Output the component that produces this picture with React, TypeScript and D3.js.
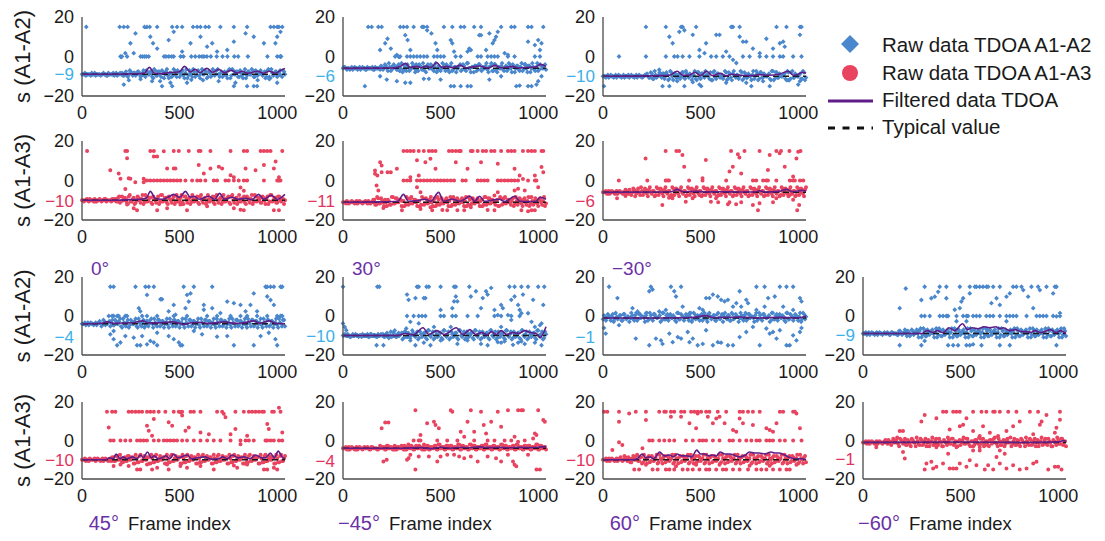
import React from 'react';
import * as d3 from 'd3';

// ---------- data ----------
const xTicks = [0, 500, 1000];
const yTicks = [20, 0, -20];
const yTitles = ['s (A1-A2)', 's (A1-A3)', 's (A1-A2)', 's (A1-A3)'];
const topAngles = ['0°', '30°', '−30°'];
const bottomAngles = ['45°', '−45°', '60°', '−60°'];
const legendLabels = ['Raw data TDOA A1-A2', 'Raw data TDOA A1-A3', 'Filtered data TDOA', 'Typical value'];

// typical values and where their labels sit
const typicals = [-9, -6, -10, -10, -11, -6, -4, -10, -1, -9, -10, -4, -10, -1];
const typLabelAt = [-9, -10, -10, -10.5, -10.3, -10.3, -10.8, -10, -10.8, -9.6, -10, -10.6, -10, -9.4];

// band points near the typical value, one digit per 10 frames (two interleaved passes)
const p00Band = '4434454344 4543445434 4353463546 2537462836 4716352847 2635174826 3547162837 4526371846 2735164827 3645172836 25374';
const p01Band = '4534435443 5434453443 5462537462 8357246137 5826473516 2847362514 7362845163 7246358271 4635284716 3527461835 27463';
const p02Band = '4443544354 4345443544 3454362547 3645271635 4726354817 2635471826 3547261835 4726351846 2735461827 3546172835 46273';
const p10Band = '4344543445 3454434537 3462735146 2837461527 3846152736 4817263547 1826354718 2635471826 3547162837 4526173846 27354';
const p11Band = '4453443544 3445346273 5146283746 1527384615 2736481726 3547182635 4718263547 1628374526 1738462735 4617283546 17283';
const p12Band = '4435443544 3453446372 5461835274 6183527461 8352746183 5274618352 7461835274 6183527461 8352746183 5274618352 74618';
const p20Band = '4435443546 2734653746 2835174628 3516274837 2615384726 1538472615 3847261538 4726153847 2615384726 1538472615 38472';
const p21Band = '4544354434 5443544354 4354436354 6273546372 5461837254 6183725461 8372546183 7254618372 5461837254 6183725461 83725';
const p22Band = '3546273546 2735462837 5462837546 2837546283 7546283754 6283754628 3754628375 4628375462 8375462837 5462837546 28375';
const p23Band = '4435443544 3544354436 3546273546 1827364518 2736451827 3645182736 4518273645 1827364518 2736451827 3645182736 45182';
const p30Band = '4434544354 4354436374 5263746152 8374615283 7461528374 6152837461 5283746152 8374615283 7461528374 6152837461 52837';
const p31Band = '4435443544 3544354436 4536445354 6354463546 4536354637 4536463547 3645374635 4637453645 3746354637 4536463547 36453';
const p32Band = '4435443546 3746254736 1846273518 4627351846 2735184627 3518462735 1846273518 4627351846 2735184627 3518462735 18462';
const p33Band = '4435443544 3546354637 4526374152 6374152637 4152637415 2637415263 7415263741 5263741526 3741526374 1526374152 63741';

const p00BandB = '4544345443 4435443545 5362745364 3726451736 2648153726 4718352637 1846253748 2635183746 2518364725 4736281546 37264';
const p01BandB = '5443544354 4354435446 3748265374 1625384726 3517462835 4726183546 2738415627 3548162735 4826371546 2837164528 36475';
const p02BandB = '4354435443 5443544354 4563728354 6271846352 7384615273 6485217364 5281736452 8173645281 7364528173 6452817364 52817';
const p10BandB = '4453445344 4534455362 7451836274 5183627451 8362745183 6274518362 7451836274 5183627451 8362745183 6274518362 74518';
const p11BandB = '4344544354 4534462837 4615283746 5182736451 8273645182 7364518273 6451827364 5182736451 8273645182 7364518273 64518';
const p12BandB = '4543544354 4636271548 2736451827 3645182736 4518273645 1827364518 2736451827 3645182736 4518273645 1827364518 27364';
const p20BandB = '4543544354 3645273648 1527364815 2736481527 3648152736 4815273648 1527364815 2736481527 3648152736 4815273648 15273';
const p21BandB = '4453445443 4453544345 5362748365 1736284517 3628451736 2845173628 4517362845 1736284517 3628451736 2845173628 45173';
const p22BandB = '6274518362 7451836274 5183627451 8362745183 6274518362 7451836274 5183627451 8362745183 6274518362 7451836274 51836';
const p23BandB = '4543544354 4453544365 4725364718 3625471836 2547183625 4718362547 1836254718 3625471836 2547183625 4718362547 18362';
const p30BandB = '4543445443 5443563748 2537461827 3546182735 4618273546 1827354618 2735461827 3546182735 4618273546 1827354618 27354';
const p31BandB = '4543544354 4453544345 5364536354 4637453645 3746354637 4536463547 3645374635 4637453645 3746354637 4536463547 36453';
const p32BandB = '4543544354 4635274836 2517364825 1736482517 3648251736 4825173648 2517364825 1736482517 3648251736 4825173648 25173';
const p33BandB = '4543544354 4635274816 3725164837 2516483725 1648372516 4837251648 3725164837 2516483725 1648372516 4837251648 37251';

// frames of points at the clipped top (15), zero and bottom (-15) levels, plus free points [frame, value, ...]
const p00Hi = [22,193,214,234,320,333,347,385,462,487,513,569,590,607,632,650,709,778,846,966,983,1000,1009,1026];
const p00Zero = [197,205,231,300,310,320,330,342,420,430,445,460,470,505,520,560,580,600,615,625,640,660,690,720,745,780,800,850,950,1000,1015,1020];
const p00Lo = [410,462,778,846,897,880];
const p00Pts = [274,11.7,248,6.7,222,1.7,265,1.7,350,10,364,6.7,385,4,444,8.3,470,12.5,513,2.5,556,6.7,607,10,641,5,667,6.7,692,2.5,744,3.3,778,7.5,838,11.7,880,10,932,6.7,991,6.7,1000,10,1017,12.5,214,-14.2,453,-13.3,786,-13.3,1000,-13.3,359,-12.5,538,-13.3,240,-12,300,-11.5,400,-12.5,560,-11.8,620,-12,700,-12.5,900,-12,960,-11.5];

const p01Hi = [129,147,181,198,293,310,328,362,405,414,431,517,560,603,621,672,707,810,862,879,948,966,1026];
const p01Zero = [267,284,293,328,345,362,379,396,414,431,466,483,500,517,577,603,690,707,741,759,776,793,845,879,983,1009];
const p01Lo = [112,552,569,603,638,655,888,948,966];
const p01Pts = [190,3.3,216,6.7,228,9,245,4,276,0.8,319,10.8,331,8.3,345,3.3,431,13.3,453,11.7,474,6.7,483,3.3,552,8.3,560,6.7,569,2.5,638,2.5,647,4,655,3.3,698,10.8,707,10.8,733,3.3,750,11.7,767,6.7,776,8.3,784,10,793,12.5,828,1.7,845,0.8,948,7.5,983,5.8,1000,8.3,1009,3.3,1017,6.7,190,-10,224,-11.7,276,-12.5,319,-13.3,414,-11.3,440,-11.3,500,-11.7,345,-13.3,750,-11.7,810,-10,905,-14.7,991,-14.2,1000,-12.5,1017,-10];

const p02Hi = [220,322,400,408,477,657,666,700,889,940,1009,1017];
const p02Zero = [82,220,322,365,382,408,443,494,554,580,614,648,717,751,803,837,871,906,923,974,1017];
const p02Lo = [5,305,340,417,503,760,854];
const p02Pts = [340,10,357,6.7,391,12.5,417,13.3,460,11,494,3.3,528,6.7,520,1.7,580,11,597,11,631,2.5,666,-1.7,683,-3.3,700,10,717,7.5,734,7.5,768,4,803,1.7,837,9,871,4,906,6.7,923,7.5,931,5,1009,11,288,-6.7,494,-14.2,734,-13.3,1009,-12.5,1000,-14.2,460,-13,631,-13.3,380,-12.5,560,-12,820,-12.5,950,-12];

const p10Hi = [26,222,231,350,368,470,496,547,598,607,658,761,829,846,915,932,949,966,1026];
const p10Zero = [333,350,368,385,402,419,436,453,470,487,504,530,564,590,607,632,675,692,735,752,778,803,829,846,932,1000,1009,1017];
const p10Lo = [282,385,538,829,1009,983];
const p10Pts = [231,11.3,145,5.2,188,3.5,197,0.9,239,1.2,248,0.9,222,-4.3,273,-0.9,316,0.9,316,-0.9,368,12.2,385,12.2,419,14.8,436,6.1,470,6.1,479,6.1,598,7.8,624,3.5,658,6.1,701,7,718,6.1,761,2.6,778,1.7,838,6.1,889,5.2,932,7.8,983,6.1,992,9.6,1009,1.7,812,-3.5,829,-5.2,265,-14,436,-14,641,-13,778,-14,812,-14.8,504,-12.2,231,-12.2];

const p11Hi = [310,328,345,362,388,414,440,457,474,543,560,578,595,603,655,664,690,716,733,759,776,810,845,862,879,922,948,966,983,1017,1026];
const p11Zero = [310,328,345,379,396,414,431,448,466,483,500,517,534,552,569,612,629,690,707,724,741,793,810,828,845,862,879,897,948,983,991];
const p11Lo = [302,457,534,586,621,776,914,966,983];
const p11Pts = [190,9.3,198,7.6,164,5.1,164,3.4,176,2.5,198,4.2,228,4.2,245,4.2,276,5.9,345,1.7,388,2.5,422,9.3,448,11,379,10.2,474,5.9,578,9.3,638,5.9,707,9.3,793,8.5,879,5.9,905,2.5,922,0.8,931,-5,983,2.5,1000,-3.4,1026,4.2,1017,6.8,172,-2.5,181,-5,397,-5.9,379,-3.4,776,-7.6,793,-5.9,879,-5,897,-4.2,397,-14.4,509,-14.9,655,-13.6,741,-14.9,948,-15.6,207,-13.9,448,-13.6];

const p12Hi = [321,376,390,656,725,802,888,912,955,1012];
const p12Zero = [81,227,321,330,338,441,510,631,768,785,820,837,845,888,957,974,983,1009,1026];
const p12Lo = [794,995];
const p12Pts = [218,11.2,407,12.9,416,7,527,10.4,648,4.5,665,7,691,13.3,699,11.6,854,12.9,905,13.8,931,7,974,2,991,11.2,1000,14.6,845,5.3,708,3.6,510,1.1,338,-8.7,356,-9,553,-10.7,579,-9,648,-11,682,-12,708,-11,768,-12.4,871,-11,888,-9,974,-9.8,1005,-12.4,304,-12.4,72,-9,115,-7.8,424,-10.7,459,-9,493,-7.3,596,-7.3,802,-11.5,922,-5.6,957,-7.3,640,-12,590,-11];

const p20Hi = [145,162,274,325,342,368,521,573,667,940,949,966,983,1017,1026];
const p20Zero = [137,154,162,180,188,222,231,308,333,385,470,538,641,692,761,812,846,897,949,1000,1017,1026];
const p20Lo = [180,282,299,385,504,513,778,880,1000];
const p20Pts = [402,8.6,410,8.6,333,10.8,538,10.8,547,7.4,556,11.6,530,4,470,5.7,479,0.7,291,4,299,2.4,444,2.4,624,3.2,624,5.7,667,4,709,1.5,744,7.4,778,6.6,812,5.7,838,2.4,863,5.7,880,11.6,897,2.4,949,10,966,8.2,983,5.7,145,-9.4,162,-11.9,197,-13.6,308,-10.3,350,-12.8,368,-13.6,470,-11.9,496,-13.6,333,-14.5,222,-10.3,265,-11.1,444,-10.3,615,-9.4,692,-10.6,744,-10.3,915,-10.3,957,-8.6,991,-11.9,385,-8.6,573,-7.7,162,-7.7];

const p21Hi = [0,176,186,379,388,428,440,500,569,578,647,853,879,914,948,1000,1031];
const p21Zero = [328,362,388,405,422,500,517,560,578,638,690,776,810,862,905];
const p21Lo = [172,207,371,448,741,1017];
const p21Pts = [328,11,336,8.3,371,9.2,414,9.2,422,9.2,500,3.1,560,4,569,7.5,578,10,586,7.5,655,10,681,12.7,707,4,716,9.2,733,12.7,741,11,759,14.4,776,3.1,793,0.5,810,5.7,819,4,845,0.5,862,8.3,879,10,897,5.7,905,3.1,914,1.4,922,11,948,1.4,966,-3,974,8.3,983,-5.6,1009,-4.7,1017,-3.8,1026,5.7,0,-3.8,9,-5.6,17,-7.3,324,-6.4,345,-3,388,-3.8,466,-5.6,552,-5.6,862,-2,810,-5.6,414,-13.7,586,-14.3,707,-14.3,810,-13.7,871,-14.8,897,-13.7,931,-14.3,983,-13.7,345,-12.5,500,-12.5,638,-12.5,793,-13.4,828,-13,914,-13];

const p22Hi = [31,245,348,400,786,828,906,940,974];
const p22Zero: number[] = [];
const p22Lo = [237,485,563,640,666,803,940,957];
const p22Pts = [74,9.2,237,12.7,254,13.6,365,12.7,374,10,408,4.8,443,1.4,494,4,511,3.1,528,9.2,545,9.2,563,11,588,10,605,8.3,623,7.5,640,8.3,666,4.8,683,6.6,700,12.7,708,4.8,734,8.3,743,6.6,786,3.1,828,4.8,846,9.2,880,10,923,4.8,974,3.1,1009,9.2,1017,7.5,151,4,177,2.3,220,1.4,288,2.3,322,3.1,5,-6.1,14,-9,82,-4.7,168,-11.6,271,-11.6,297,-12.5,305,-14.3,340,-9,357,-13.4,383,-10.8,400,-11.6,434,-8.2,443,-13.4,460,-11.6,511,-14.3,528,-7.3,588,-13.4,605,-13.7,700,-10.8,734,-8.2,768,-5.6,837,-6.4,854,-9,871,-8.2,889,-11.6,906,-7.3,974,-9.9,991,-12.5,1009,-8.2,1017,-6.1];

const p23Hi = [316,393,427,496,547,573,581,598,615,632,641,667,701,769,786,812,863,897,940,983,991];
const p23Zero = [299,316,342,393,410,427,436,479,513,530,538,564,581,598,632,650,667,701,735,752,769,786,838,889,906,923,940,974,1009];
const p23Lo = [188,299,436,462,487,530,547,607,701,752,991];
const p23Pts = [188,4,219,14.1,299,8.2,350,9.1,368,9.9,385,12.4,427,9.1,470,3.2,496,4,504,7.4,513,9.1,547,11.6,658,6.6,684,9.1,701,5.7,735,9.9,752,11.6,821,13.3,846,9.9,872,4,906,13.3,974,11.6,991,-0.2,1009,1.5,316,-12.8,564,-14.5,479,-2.7,530,-2.7,735,-2.7];

const p30Hi = [128,154,171,239,256,274,291,308,333,350,368,393,427,470,496,513,556,573,607,692,718,786,829,855,872,889,906,923,932,974,983,1017];
const p30Zero = [145,162,197,222,248,282,299,316,333,368,393,419,436,453,470,487,513,538,573,607,641,675,709,761,812,838,855,880,940,949,966,983,1009,1026];
const p30Lo = [282,299,359,444,675,932,949,1000];
const p30Pts = [137,6.8,333,7.7,342,5.1,359,2.5,368,11.2,444,9.5,462,7.7,504,14.7,513,13,530,5.1,547,6.8,607,4.2,650,3.3,726,13.9,735,12.1,761,3.3,786,6,812,-1.9,846,2.5,949,8.6,957,6,1009,17,1026,4.2,162,-13.3,197,-12.5,239,-13.3,333,-12.5,385,-14.2,436,-12.5,504,-13.3,538,-14.2,607,-13.3,778,-13,795,-14.2,846,-12.5,983,-14.2];

const p31Hi: number[] = [];
const p31Zero = [362,388,397,483,534,586,672,741,776,828,862,931];
const p31Lo = [371,991,1009];
const p31Pts = [371,15.7,198,6.3,216,9.4,233,9.4,431,8.9,466,9.7,474,8,491,6.3,552,15.7,560,14.9,603,4.6,638,9.7,655,15.7,672,4.6,707,14.9,721,8,733,3.7,759,9.7,793,14.9,810,7.1,845,15.7,879,2,897,15.7,914,15.7,922,15.7,983,3.7,991,2.9,1000,15.7,1026,10.6,1034,9.7,621,2,897,-0.6,974,1.1,397,2.9,207,-10.9,224,-10,328,-10,336,-9.2,388,-8.3,483,-10.9,500,-8.3,569,-7.4,621,-9.2,655,-8.3,690,-10.9,741,-8.3,784,-9.2,810,-10.9,871,-10.9,879,-12.6,888,-13.4,345,-7.4,440,-8.3,534,-7.4,595,-8.3,845,-7.4,948,-7.4];

const p32Hi = [5,22,82,168,220,288,322,348,365,400,417,451,468,485,528,545,588,631,700,717,743,768,803,906,923,983];
const p32Zero = [237,254,288,314,340,365,425,460,494,511,528,563,597,648,666,700,734,760,786,803,837,854,871,906,932,974,1017];
const p32Lo = [160,185,254,280,322,340,365,408,434,460,494,528,545,580,614,631,666,700,743,786,811,837,871,906,940,957];
const p32Pts = [82,9.7,134,14,220,10.6,314,15,348,12.3,400,12.3,443,8.9,477,6.3,485,14,503,14.9,537,12.3,563,8.9,580,11.4,597,12.3,623,8.9,666,5.4,683,4.6,700,11.4,717,8.9,768,8,837,6.3,854,5.4,871,4.6,889,8.9,974,14.9,991,14,1009,6.3,82,-0.9,99,-2.3,202,-4,48,-4.9,220,-12.6,374,-13.4,477,-12.6,597,-12.6,751,-13.1,854,-13.1,991,-12.6];

const p33Hi = [410,427,462,479,496,564,607,632,667,675,701,744,786,855,897,1009];
const p33Zero: number[] = [];
const p33Lo = [316,624,667,803,949,1017];
const p33Pts = [188,4.9,205,4.9,299,9.9,316,13.3,376,11.6,444,5.7,496,7.4,513,8.2,530,11.6,564,4.9,598,2.4,615,7.4,650,4,692,2.4,735,4.9,769,7.4,803,9.9,872,3.2,906,8.2,915,9.9,940,13.3,983,4,991,6.6,1009,10.8,68,-3.5,205,-6,214,-9.4,376,-3.5,479,-3.5,598,-3.5,701,-5.2,325,-11.9,350,-11.1,359,-14.5,376,-13.6,410,-11.9,444,-14.5,462,-14.5,479,-14.5,496,-11.9,530,-13.6,547,-10.3,581,-12.8,598,-5.2,641,-12.8,684,-8.6,701,-11.9,735,-14.5,769,-12.8,838,-14.5,872,-11.9,889,-11.1,983,-13.6,1000,-13.6,564,-5.2,436,-6.9,726,-6.9];

// filtered TDOA: [frame, offset from typical] key points
const p00Filt = [0,0,280,0.3,320,0.6,345,3.5,370,0.6,400,0.3,440,0.8,470,1,500,1.3,525,4,555,1.2,580,2.5,605,0.8,640,3,670,1,700,2.5,730,0.8,765,2,795,0.6,820,1.5,850,0.5,900,1.5,930,0.5,960,1.5,990,0.5,1010,1.5,1040,3];
const p01Filt = [0,0,250,0.2,290,0.8,320,2.5,345,0.5,380,1,400,0.3,425,1.2,450,0.5,480,3,505,0.5,530,1,560,0.3,600,1.5,630,0.3,700,1.2,740,0.2,780,1.5,810,0.3,870,1,900,0.2,950,0.5,990,0.8,1010,2,1040,1];
const p02Filt = [0,0,300,0.3,340,0.5,380,2.5,410,0.5,440,0.5,470,2,500,0.3,530,2.5,560,0.3,600,1.5,630,0.2,660,1,700,0.5,760,0.3,800,0.8,850,0.5,900,1,950,2.5,975,0.5,1000,1,1020,2,1040,1.5];
const p10Filt = [0,0,150,0,250,0.3,300,0.5,330,1,350,4.5,375,1,410,0.5,440,1.5,470,3,500,1.5,530,4.5,555,1.5,575,2,600,0.5,650,2,680,0.5,705,3.5,730,0.5,770,1.5,800,0.5,840,1,870,0.3,905,3,930,0.5,970,2.5,1000,0.5,1040,3];
const p11Filt = [0,0,200,0.2,280,0.5,310,4,335,0.5,380,0.8,420,1.5,450,0.5,490,5,515,0.5,560,1.5,600,0.5,650,3,675,0.5,700,3,725,0.5,760,1,800,1.5,830,0.3,880,3,905,0.5,950,0.3,990,0.5,1010,2.5,1040,1.5];
const p12Filt = [0,0,300,0.2,350,0.3,380,1.5,410,0.3,480,0.5,520,0.2,600,0.3,700,0.2,780,0.2,800,0.8,830,0.2,900,0.5,940,1.5,970,0.3,1020,1,1040,0.5];
const p20Filt = [0,0,100,0.3,130,1,160,0.3,260,0.5,310,1.5,340,0.5,400,0.5,460,1,500,0.3,520,-0.3,560,0.5,600,0.8,650,0.2,730,1,780,0.2,830,0.5,880,1.5,910,0.3,960,1.5,990,0.3,1040,0];
const p21Filt = [0,0,280,0,320,1,360,0.3,410,4,440,0.5,480,2.5,520,0.5,580,4,615,0.5,650,3,680,0.5,710,1.5,740,0.3,760,2,785,0.5,810,2.5,840,0.5,870,1.5,900,1,930,2.5,960,1.5,990,1,1010,-1,1040,4.5];
const p22Filt = [0,0,300,0,450,0.2,530,1.2,560,0.2,700,0.5,800,0,900,0.3,1000,0,1040,1];
const p23Filt = [0,0,300,0,330,1.5,360,0.5,380,1.5,410,0.5,440,3,470,1.5,510,5,535,2,560,3,590,2.5,620,3.5,650,3,680,3.5,700,2.5,720,3,750,1.5,780,2,810,1,840,1,860,0.5,880,1.5,910,0.5,930,1,960,2,990,0.5,1010,1.5,1040,0];
const p30Filt = [0,0,120,0,140,1,160,0.5,175,3,195,0.5,210,1.5,230,0.5,260,1.5,280,0.5,300,2.5,315,1,335,4,355,1,370,2,390,0.5,410,1,430,2,450,0.5,470,3,490,1,510,1.5,540,2.5,560,0.5,590,1,630,1.5,660,0.3,700,0.5,720,1.5,745,0.5,770,2.5,800,1,830,1.5,860,0.5,890,2.5,920,1,940,1,965,3.5,985,1,1005,4.5,1025,1.5,1040,0.5];
const p31Filt = [0,0,300,0,400,0.3,450,-0.2,500,0.5,550,0,600,0.5,650,0.2,700,0.7,750,0.3,800,0.5,850,0.2,900,0.5,950,0.3,1000,0.5,1040,0.8];
const p32Filt = [0,0,150,0,175,0.5,200,3,220,1,240,1.5,260,0.5,290,4,315,2,340,2.5,360,1.5,380,3,400,2,430,2,455,1.5,480,5,500,3,520,3,540,2,560,2.5,580,2,600,4,625,3,650,3,680,2,700,1.5,730,2.5,750,4,775,3.5,800,3.5,830,3,860,4,880,3.5,900,3.5,930,2.5,960,1,990,0.5,1020,0.5,1040,0];
const p33Filt = [0,0,500,0.2,800,0,1000,0.3,1030,1,1040,0.5];

// ---------- panel table ----------
const panels = [
  { r: 0, c: 0, s: 'A2', band: p00Band, bandB: p00BandB, hi: p00Hi, zero: p00Zero, lo: p00Lo, pts: p00Pts, filt: p00Filt },
  { r: 0, c: 1, s: 'A2', band: p01Band, bandB: p01BandB, hi: p01Hi, zero: p01Zero, lo: p01Lo, pts: p01Pts, filt: p01Filt },
  { r: 0, c: 2, s: 'A2', band: p02Band, bandB: p02BandB, hi: p02Hi, zero: p02Zero, lo: p02Lo, pts: p02Pts, filt: p02Filt },
  { r: 1, c: 0, s: 'A3', band: p10Band, bandB: p10BandB, hi: p10Hi, zero: p10Zero, lo: p10Lo, pts: p10Pts, filt: p10Filt },
  { r: 1, c: 1, s: 'A3', band: p11Band, bandB: p11BandB, hi: p11Hi, zero: p11Zero, lo: p11Lo, pts: p11Pts, filt: p11Filt },
  { r: 1, c: 2, s: 'A3', band: p12Band, bandB: p12BandB, hi: p12Hi, zero: p12Zero, lo: p12Lo, pts: p12Pts, filt: p12Filt },
  { r: 2, c: 0, s: 'A2', band: p20Band, bandB: p20BandB, hi: p20Hi, zero: p20Zero, lo: p20Lo, pts: p20Pts, filt: p20Filt },
  { r: 2, c: 1, s: 'A2', band: p21Band, bandB: p21BandB, hi: p21Hi, zero: p21Zero, lo: p21Lo, pts: p21Pts, filt: p21Filt },
  { r: 2, c: 2, s: 'A2', band: p22Band, bandB: p22BandB, hi: p22Hi, zero: p22Zero, lo: p22Lo, pts: p22Pts, filt: p22Filt },
  { r: 2, c: 3, s: 'A2', band: p23Band, bandB: p23BandB, hi: p23Hi, zero: p23Zero, lo: p23Lo, pts: p23Pts, filt: p23Filt },
  { r: 3, c: 0, s: 'A3', band: p30Band, bandB: p30BandB, hi: p30Hi, zero: p30Zero, lo: p30Lo, pts: p30Pts, filt: p30Filt },
  { r: 3, c: 1, s: 'A3', band: p31Band, bandB: p31BandB, hi: p31Hi, zero: p31Zero, lo: p31Lo, pts: p31Pts, filt: p31Filt },
  { r: 3, c: 2, s: 'A3', band: p32Band, bandB: p32BandB, hi: p32Hi, zero: p32Zero, lo: p32Lo, pts: p32Pts, filt: p32Filt },
  { r: 3, c: 3, s: 'A3', band: p33Band, bandB: p33BandB, hi: p33Hi, zero: p33Zero, lo: p33Lo, pts: p33Pts, filt: p33Filt },
];

// ---------- layout / style ----------
const W = 1105, H = 541;
const FONT = '"Liberation Sans", Arial, Helvetica, sans-serif';
const colX = [82, 343, 603, 863];
const rowTop = [17, 141, 277, 402];
const rowH = [79, 79, 78, 77];
const plotW = 203;
const BAND_STEP = 0.65;
const BLUE = '#4a87cc';
const RED = '#e8445f';
const PURPLE = '#5f1d87';
const PURPLE_TXT = '#6a30a6';
const BLUE_LBL = '#3bb0ea';
const RED_LBL = '#e3325c';
const AXIS = '#4a4a4a';
const TXT = '#1a1a1a';
const fmt = (v: number) => (v < 0 ? '−' + Math.abs(v) : String(v));

function diamond(x: number, y: number, s: number) {
  return `M${x},${y - s}L${x + s},${y}L${x},${y + s}L${x - s},${y}Z`;
}
function dot(x: number, y: number, r: number) {
  return `M${x - r},${y}a${r},${r} 0 1,0 ${2 * r},0a${r},${r} 0 1,0 ${-2 * r},0Z`;
}

function Panel({ p, i }: { p: any; i: number }) {
  const x0 = colX[p.c];
  const top = rowTop[p.r];
  const h = rowH[p.r];
  const typ = typicals[i];
  const x = d3.scaleLinear().domain([0, 1040]).range([x0, x0 + plotW]);
  const y = d3.scaleLinear().domain([-20, 20]).range([top + h, top]);

  const raw: [number, number][] = [];
  const dA = p.band.replace(/\s/g, '');
  const dB = p.bandB.replace(/\s/g, '');
  for (let k = 0; k < dA.length; k++) raw.push([k * 10, typ + (Number(dA[k]) - 4) * BAND_STEP]);
  for (let k = 0; k < dB.length; k++) raw.push([k * 10 + 5, typ + (Number(dB[k]) - 4) * BAND_STEP]);
  p.hi.forEach((f: number) => raw.push([f, 15]));
  p.zero.forEach((f: number) => raw.push([f, 0]));
  p.lo.forEach((f: number) => raw.push([f, -15]));
  for (let k = 0; k + 1 < p.pts.length; k += 2) raw.push([p.pts[k], p.pts[k + 1]]);

  const filt: [number, number][] = [];
  for (let k = 0; k + 1 < p.filt.length; k += 2) filt.push([p.filt[k], typ + p.filt[k + 1]]);
  const line = d3
    .line<[number, number]>()
    .x((d) => x(d[0]))
    .y((d) => y(d[1]))
    .curve(d3.curveMonotoneX);

  const isA2 = p.s === 'A2';
  let markers = '';
  raw
    .filter(([f]) => f <= 1040)
    .forEach(([f, v]) => (markers += isA2 ? diamond(x(f), y(v), 2.4) : dot(x(f), y(v), 2)));

  return (
    <g>
      <path d={markers} fill={isA2 ? BLUE : RED} />
      <line x1={x(0)} x2={x(1040)} y1={y(typ)} y2={y(typ)} stroke="#1a1a1a" strokeWidth={1.5} strokeDasharray="6,4" />
      <path d={line(filt) || ''} fill="none" stroke={PURPLE} strokeWidth={1.6} />
      <line x1={x0} x2={x0} y1={top} y2={top + h} stroke={AXIS} strokeWidth={1.3} />
      <line x1={x0} x2={x0 + plotW} y1={top + h} y2={top + h} stroke={AXIS} strokeWidth={1.3} />
      {yTicks.map((t) => (
        <text key={t} x={x0 - 8} y={y(t)} dy="0.36em" textAnchor="end" fontSize={18} fill={TXT}>
          {fmt(t)}
        </text>
      ))}
      <text x={x0 - 8} y={y(typLabelAt[i])} dy="0.36em" textAnchor="end" fontSize={17} fill={isA2 ? BLUE_LBL : RED_LBL}>
        {fmt(typ)}
      </text>
      {xTicks.map((t) => (
        <text key={t} x={x(t)} y={top + h + 23} textAnchor="middle" fontSize={18} fill={TXT}>
          {t}
        </text>
      ))}
    </g>
  );
}

export default function App() {
  return (
    <svg width={W} height={H} style={{ position: 'absolute', left: 0, top: 0, background: '#fff' }} fontFamily={FONT}>
      <rect width={W} height={H} fill="#fff" />
      {panels.map((p, i) => (
        <Panel key={i} p={p} i={i} />
      ))}
      {yTitles.map((t, r) => (
        <text key={r} transform={`translate(30,${rowTop[r] + rowH[r] / 2}) rotate(-90)`} textAnchor="middle" fontSize={22} fill={TXT}>
          {t}
        </text>
      ))}
      {topAngles.map((t, c) => (
        <text key={t} x={colX[c] + 9} y={275} fontSize={19} fill={PURPLE_TXT}>
          {t}
        </text>
      ))}
      {bottomAngles.map((t, c) => (
        <g key={t}>
          <text x={colX[c] + 37} y={530} textAnchor="end" fontSize={20} fill={PURPLE_TXT}>
            {t}
          </text>
          <text x={colX[c] + 46} y={530} fontSize={18.5} fill={TXT}>
            Frame index
          </text>
        </g>
      ))}
      {/* legend */}
      <path d={diamond(850, 44, 9)} fill={BLUE} />
      <circle cx={850} cy={73} r={8} fill={RED} />
      <line x1={828} x2={873} y1={101} y2={101} stroke={PURPLE} strokeWidth={3} />
      <line x1={828} x2={873} y1={128} y2={128} stroke="#111" strokeWidth={3} strokeDasharray="7,7.5" />
      {legendLabels.map((t, k) => (
        <text key={t} x={882} y={[45, 73, 100, 127][k]} dy="0.36em" fontSize={20.5} fill={TXT}>
          {t}
        </text>
      ))}
    </svg>
  );
}
